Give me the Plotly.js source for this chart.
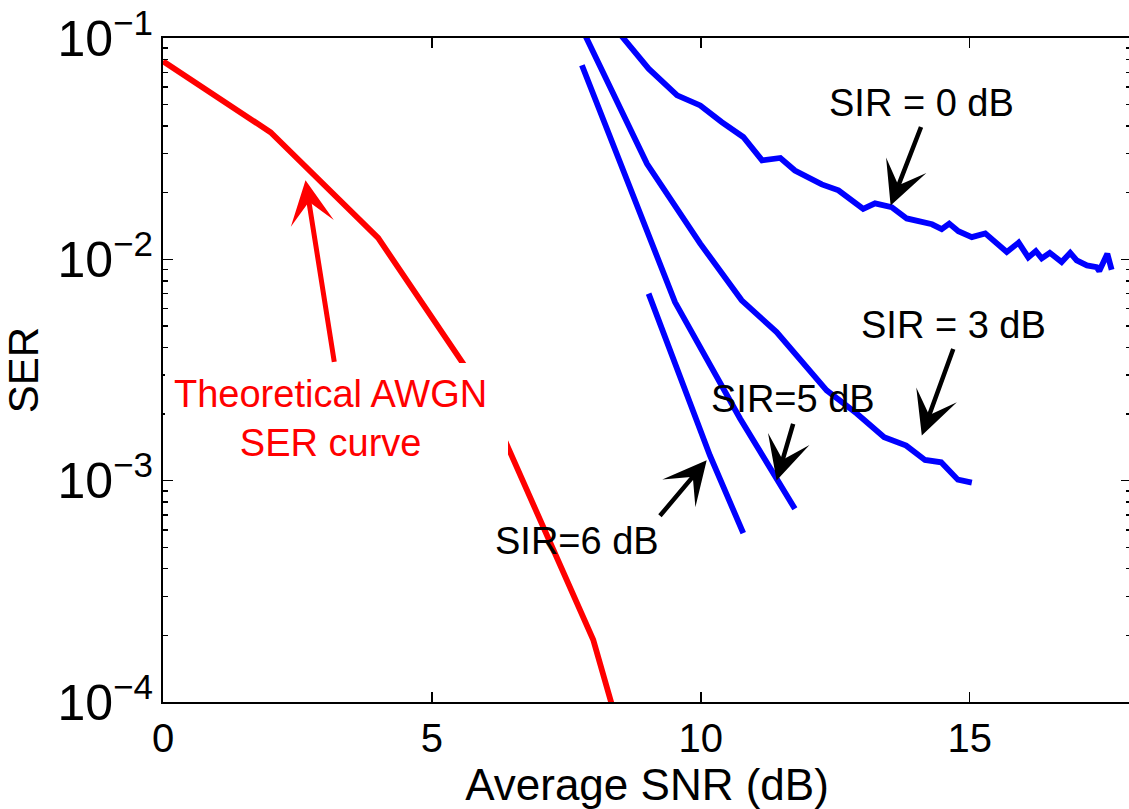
<!DOCTYPE html>
<html>
<head>
<meta charset="utf-8">
<script src="https://cdn.plot.ly/plotly-3.0.1.min.js"></script>
<style>html,body{margin:0;padding:0;background:#fff;overflow:hidden;}#chart{width:1131px;height:809px;}</style>
</head>
<body>
<div id="chart"></div>
<script>
// Theoretical AWGN SER curve
const snrAwgn = [0, 2, 4, 6, 8, 10];
const serAwgn = [0.0786, 0.0375, 0.0125, 0.00239, 1.91e-4, 3.87e-6];

// SIR = 0 dB
const snrSir0 = [8.5, 9.03, 9.56, 9.99, 10.39, 10.79, 11.14, 11.48, 11.75, 12.25, 12.56, 13.02, 13.24, 13.55, 13.83, 14.02, 14.30, 14.48, 14.62, 14.79, 15.04, 15.29, 15.47, 15.69, 15.91, 16.09, 16.23, 16.34, 16.49, 16.71, 16.87, 16.99, 17.18, 17.36, 17.41, 17.56, 17.64];
const serSir0 = [0.104, 0.0727, 0.0551, 0.0496, 0.0417, 0.0357, 0.0280, 0.0287, 0.0252, 0.0218, 0.0205, 0.0169, 0.0179, 0.0172, 0.0153, 0.0149, 0.0144, 0.0137, 0.0145, 0.0134, 0.0126, 0.0131, 0.0120, 0.0108, 0.0119, 0.0102, 0.0109, 0.0101, 0.0107, 0.00972, 0.0107, 0.00989, 0.00939, 0.00923, 0.00885, 0.0106, 0.00897];

// SIR = 3 dB
const snrSir3 = [7.8, 9.00, 9.99, 10.76, 11.41, 12.34, 12.90, 13.41, 13.82, 14.17, 14.47, 14.78, 15.04];
const serSir3 = [0.109, 0.0270, 0.01178, 0.00653, 0.00469, 0.00256, 0.00201, 0.00157, 0.00144, 0.00124, 0.00121, 0.00101, 0.00098];

// SIR = 5 dB
const snrSir5 = [7.79, 9.52, 10.73, 11.75];
const serSir5 = [0.0753, 0.00641, 0.00191, 0.000746];

// SIR = 6 dB
const snrSir6 = [9.03, 10.17, 10.79];
const serSir6 = [0.0070, 0.00130, 0.000579];

const fontFam = '"Liberation Sans", Arial, Helvetica, sans-serif';
const lw = 5.8;

const traces = [
  {x: snrAwgn, y: serAwgn, mode: 'lines', line: {color: '#ff0000', width: lw}},
  {x: snrSir0, y: serSir0, mode: 'lines', line: {color: '#0000ff', width: lw}},
  {x: snrSir3, y: serSir3, mode: 'lines', line: {color: '#0000ff', width: lw}},
  {x: snrSir5, y: serSir5, mode: 'lines', line: {color: '#0000ff', width: lw}},
  {x: snrSir6, y: serSir6, mode: 'lines', line: {color: '#0000ff', width: lw}}
];

const annFont = {family: fontFam, size: 38, color: '#000'};
const arrowCommon = {showarrow: true, arrowhead: 3, arrowsize: 1.6, arrowwidth: 4.5, arrowcolor: '#000', text: '', standoff: 0, xref: 'x', yref: 'y', axref: 'pixel', ayref: 'pixel'};

const layout = {
  width: 1131, height: 809,
  margin: {l: 163, r: 0, t: 38, b: 107},
  paper_bgcolor: '#fff', plot_bgcolor: '#fff',
  showlegend: false,
  font: {family: fontFam, size: 40, color: '#000'},
  xaxis: {
    range: [0, 18], tickvals: [0, 5, 10, 15], ticktext: ['0', '5', '10', '15'],
    ticks: 'inside', ticklen: 10, tickwidth: 1.5, tickcolor: '#000',
    showline: true, linecolor: '#000', linewidth: 2, mirror: 'ticks',
    showgrid: false, zeroline: false,
    tickfont: {family: fontFam, size: 40, color: '#000'},
    title: {text: 'Average SNR (dB)', font: {family: fontFam, size: 44, color: '#000'}, standoff: 4}
  },
  yaxis: {
    type: 'log', range: [-4, -1], dtick: 1, exponentformat: 'power',
    ticks: 'inside', ticklen: 10, tickwidth: 1.5, tickcolor: '#000',
    minor: {ticks: 'inside', ticklen: 5, tickwidth: 1.5, tickcolor: '#000', showgrid: false},
    showline: true, linecolor: '#000', linewidth: 2, mirror: 'ticks',
    showgrid: false, zeroline: false,
    tickfont: {family: fontFam, size: 40, color: '#000'},
    title: {text: 'SER', font: {family: fontFam, size: 42, color: '#000'}, standoff: 6}
  },
  annotations: [
    // white mask behind the red caption
    {x: 3.226, y: -2.715, xref: 'x', yref: 'y', text: '\u00a0', showarrow: false, width: 343, height: 109,
     bgcolor: '#ffffff', borderpad: 0, borderwidth: 0},
    // arrows
    Object.assign({}, arrowCommon, {x: 13.53, y: -1.757, ax: 31, ay: -80}),
    Object.assign({}, arrowCommon, {x: 14.11, y: -2.796, ax: 32, ay: -88}),
    Object.assign({}, arrowCommon, {x: 11.41, y: -2.999, ax: 17, ay: -58}),
    Object.assign({}, arrowCommon, {x: 10.11, y: -2.908, ax: -48, ay: 57}),
    Object.assign({}, arrowCommon, {x: 2.65, y: -1.643, ax: 29, ay: 183, arrowcolor: '#ff0000', arrowwidth: 5, arrowsize: 1.45}),
    // labels
    {x: 14.11, y: -1.293, xref: 'x', yref: 'y', text: 'SIR = 0 dB', showarrow: false, font: annFont},
    {x: 14.69, y: -2.298, xref: 'x', yref: 'y', text: 'SIR = 3 dB', showarrow: false, font: annFont},
    {x: 11.71, y: -2.633, xref: 'x', yref: 'y', text: 'SIR=5 dB', showarrow: false, font: annFont},
    {x: 7.70, y: -3.272, xref: 'x', yref: 'y', text: 'SIR=6 dB', showarrow: false, font: annFont},
    {x: 3.11, y: -2.720, xref: 'x', yref: 'y', text: 'Theoretical AWGN<br>SER curve', showarrow: false,
     font: {family: fontFam, size: 38, color: '#ff0000'}, align: 'center'}
  ]
};

Plotly.newPlot('chart', traces, layout, {displayModeBar: false, staticPlot: true});
</script>
</body>
</html>
